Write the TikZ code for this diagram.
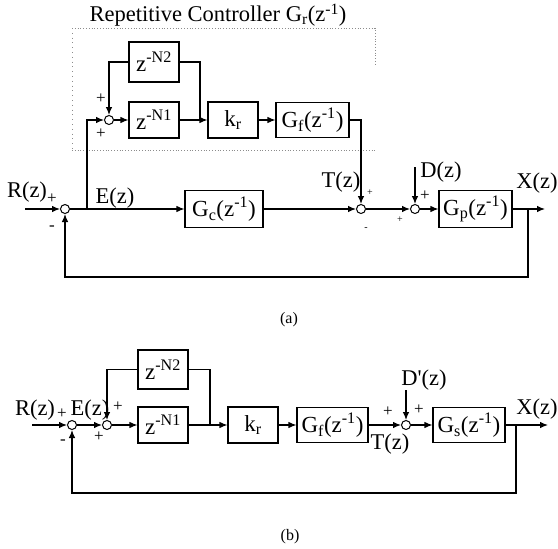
\documentclass[tikz,border=0pt]{standalone}
\usepackage{fontspec}
\setmainfont{Liberation Serif}
\usetikzlibrary{arrows.meta,positioning}

\begin{document}
\begin{tikzpicture}[
    x=1pt, y=-1pt,
    block/.style={draw, line width=1.1pt, inner sep=0pt, minimum width=50pt, minimum height=36pt, font=\fontsize{23}{25}\selectfont},
    sum/.style={draw, circle, line width=1pt, minimum size=9pt, inner sep=0pt},
    arrow/.style={-{Latex[length=8pt,width=6.5pt]}, line width=1.1pt},
    line/.style={line width=1.1pt},
    lbl/.style={font=\fontsize{22.5}{25}\selectfont, inner sep=0pt},
    sgn/.style={font=\fontsize{17}{19}\selectfont, inner sep=0pt},
    small sgn/.style={font=\fontsize{10}{11}\selectfont, inner sep=0pt},
    caption/.style={font=\fontsize{16}{18}\selectfont, inner sep=0pt},
    frame/.style={black!45, dotted, line width=0.8pt}
]
\useasboundingbox (0,0) rectangle (558,549);

% (a) repetitive controller in parallel
\node[lbl] (title) at (218,15) {Repetitive Controller G\textsubscript{r}(z\textsuperscript{-1})};
\draw[frame] (72,28) -- (375,28) -- (375,64);
\draw[frame] (72,150) -- (377,150);
\draw[frame, loosely dotted] (72,28) -- (72,150);

\node[sum] (sa1) at (65,209) {};
\node[block, minimum width=78pt, minimum height=37pt] (gca) at (224,209) {G\textsubscript{c}(z\textsuperscript{-1})};
\node[sum] (sat) at (361,209) {};
\node[sum] (sad) at (415,209) {};
\node[block, minimum width=73pt, minimum height=37pt] (gpa) at (475.5,209) {G\textsubscript{p}(z\textsuperscript{-1})};

\node[sum] (sar) at (109,120) {};
\node[block] (n1a) at (154,120) {z\textsuperscript{-N1}};
\node[block, minimum height=40pt] (n2a) at (154,62) {z\textsuperscript{-N2}};
\node[block] (kra) at (233,120) {k\textsubscript{r}};
\node[block, minimum width=73pt, minimum height=35pt] (gfa) at (312.5,120) {G\textsubscript{f}(z\textsuperscript{-1})};

\coordinate (ina) at (25,209);
\coordinate (ea) at (87,209);
\coordinate (ja) at (200,120);
\coordinate (xa) at (528,209);
\coordinate (outa) at (545,209);
\coordinate (fba) at (528,277);
\coordinate (da) at (415,167);

\draw[arrow] (ina) -- (sa1);
\draw[arrow] (sa1) -- (gca);
\draw[arrow] (gca) -- (sat);
\draw[arrow] (sat) -- (sad);
\draw[arrow] (sad) -- (gpa);
\draw[arrow] (gpa) -- (outa);
\draw[arrow] (xa) -- (fba) -| (sa1);
\draw[arrow] (ea) |- (sar);
\draw[arrow] (sar) -- (n1a);
\draw[arrow] (n1a) -- (kra);
\draw[arrow] (kra) -- (gfa);
\draw[line] (n2a.east) -| (ja);
\draw[arrow] (n2a.west) -| (sar);
\draw[arrow] (gfa.east) -| (sat);
\draw[arrow] (da) -- (sad);

\node[lbl] (rla) at (27,192) {R(z)};
\node[sgn] (pa1) at (52,199) {+};
\node[sgn] (ma1) at (52,228) {-};
\node[lbl] (ela) at (115,198) {E(z)};
\node[sgn] (pr1) at (101,99) {+};
\node[sgn] (pr2) at (101,134) {+};
\node[lbl] (tla) at (341,182) {T(z)};
\node[small sgn] (pt) at (370,193) {+};
\node[small sgn] (mt) at (366,229) {-};
\node[lbl] (dla) at (441,172) {D(z)};
\node[small sgn] (pd1) at (400,220) {+};
\node[sgn] (pd2) at (425,196) {+};
\node[lbl] (xla) at (537,183) {X(z)};
\node[caption] (capa) at (289,320) {(a)};

% (b) repetitive controller in series
\node[sum] (sb1) at (72,425) {};
\node[sum] (sb2) at (107,425) {};
\node[block] (n1b) at (163,425) {z\textsuperscript{-N1}};
\node[block, minimum height=39pt] (n2b) at (163,369.5) {z\textsuperscript{-N2}};
\node[block] (krb) at (253,425) {k\textsubscript{r}};
\node[block, minimum width=71pt, minimum height=35pt] (gfb) at (332.5,425) {G\textsubscript{f}(z\textsuperscript{-1})};
\node[sum] (sb3) at (406,425) {};
\node[block, minimum width=72pt, minimum height=35pt] (gsb) at (469,425) {G\textsubscript{s}(z\textsuperscript{-1})};

\coordinate (inb) at (32,425);
\coordinate (jb) at (210,425);
\coordinate (xb) at (516,425);
\coordinate (outb) at (548,425);
\coordinate (fbb) at (516,493);
\coordinate (db) at (406,390);

\draw[arrow] (inb) -- (sb1);
\draw[arrow] (sb1) -- (sb2);
\draw[arrow] (sb2) -- (n1b);
\draw[arrow] (n1b) -- (krb);
\draw[line] (n2b.east) -| (jb);
\draw[arrow] (n2b.west) -| (sb2);
\draw[arrow] (krb) -- (gfb);
\draw[arrow] (gfb) -- (sb3);
\draw[arrow] (sb3) -- (gsb);
\draw[arrow] (gsb) -- (outb);
\draw[arrow] (xb) -- (fbb) -| (sb1);
\draw[arrow] (db) -- (sb3);

\node[lbl] (rlb) at (35,410) {R(z)};
\node[lbl] (elb) at (90,410) {E(z)};
\node[sgn] (pb1) at (62,414) {+};
\node[sgn] (mb1) at (63,442) {-};
\node[sgn] (pb2) at (118,407) {+};
\node[sgn] (pb3) at (99,437) {+};
\node[sgn] (pb4) at (388,412) {+};
\node[lbl] (tlb) at (390,444) {T(z)};
\node[lbl] (dlb) at (424,380) {D\textquotesingle(z)};
\node[sgn] (pb5) at (419,410) {+};
\node[lbl] (xlb) at (537,409) {X(z)};
\node[caption] (capb) at (290,537) {(b)};
\end{tikzpicture}
\end{document}
